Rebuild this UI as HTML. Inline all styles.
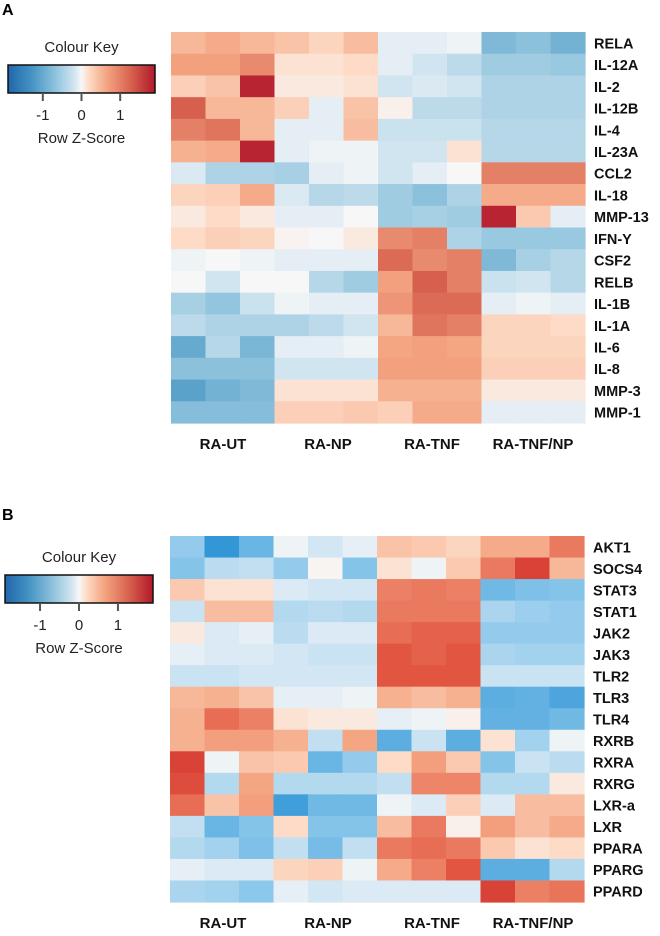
<!DOCTYPE html>
<html><head><meta charset="utf-8"><style>
body{margin:0;background:#fff;width:660px;height:931px;overflow:hidden}
svg text{font-family:"Liberation Sans",sans-serif}
</style></head><body>
<svg id="chart" width="660" height="931" xmlns="http://www.w3.org/2000/svg">
<defs><linearGradient id="kg" x1="0" x2="1" y1="0" y2="0">
<stop offset="0" stop-color="#2166AC"/><stop offset="0.16" stop-color="#4393C3"/><stop offset="0.33" stop-color="#92C5DE"/><stop offset="0.45" stop-color="#D1E5F0"/><stop offset="0.5" stop-color="#F7F7F7"/><stop offset="0.55" stop-color="#FDDBC7"/><stop offset="0.67" stop-color="#F4A582"/><stop offset="0.84" stop-color="#D6604D"/><stop offset="1" stop-color="#B2182B"/>
</linearGradient></defs>
</svg>
<script>
const groups=["RA-UT","RA-NP","RA-TNF","RA-TNF/NP"];
const genesA=["RELA","IL-12A","IL-2","IL-12B","IL-4","IL-23A","CCL2","IL-18","MMP-13","IFN-Y","CSF2","RELB","IL-1B","IL-1A","IL-6","IL-8","MMP-3","MMP-1"];
const valuesA=[
[.5,.6,.5,.4,.25,.45,-.1,-.1,-.05,-.8,-.7,-.9],
[.7,.7,.9,.15,.15,.2,-.1,-.2,-.35,-.55,-.55,-.6],
[.3,.4,1.8,.1,.1,.15,-.2,-.15,-.2,-.45,-.45,-.45],
[1.3,.5,.5,.3,-.1,.4,.05,-.35,-.35,-.45,-.45,-.45],
[1.0,1.1,.5,-.1,-.1,.45,-.25,-.25,-.25,-.4,-.4,-.4],
[.55,.6,1.8,-.1,-.05,-.05,-.2,-.2,.15,-.4,-.4,-.4],
[-.15,-.45,-.45,-.5,-.1,-.05,-.2,-.1,0,1.0,1.0,1.0],
[.25,.3,.6,-.15,-.4,-.35,-.55,-.7,-.45,.6,.6,.6],
[.1,.2,.1,-.1,-.1,0,-.55,-.5,-.55,1.8,.35,-.1],
[.2,.3,.25,.03,0,.1,.9,1.0,-.45,-.6,-.6,-.6],
[-.05,0,-.05,-.1,-.1,-.1,1.2,.9,1.0,-.8,-.5,-.4],
[0,-.2,0,0,-.4,-.55,.7,1.3,1.0,-.25,-.2,-.4],
[-.5,-.65,-.25,-.05,-.1,-.1,.8,1.2,1.2,-.1,-.05,-.1],
[-.35,-.45,-.45,-.45,-.35,-.2,.5,1.1,1.0,.25,.25,.2],
[-1.0,-.4,-.85,-.1,-.1,-.05,.65,.7,.65,.25,.25,.25],
[-.7,-.7,-.7,-.2,-.2,-.2,.7,.7,.7,.3,.3,.3],
[-1.1,-.9,-.8,.15,.15,.15,.55,.55,.55,.1,.1,.1],
[-.75,-.75,-.75,.3,.3,.35,.3,.6,.6,-.1,-.1,-.1]];
const genesB=["AKT1","SOCS4","STAT3","STAT1","JAK2","JAK3","TLR2","TLR3","TLR4","RXRB","RXRA","RXRG","LXR-a","LXR","PPARA","PPARG","PPARD"];
const valuesB=[
[-.6,-1.3,-.9,-.05,-.2,-.1,.4,.35,.25,.6,.6,1.0],
[-.7,-.35,-.3,-.6,.02,-.7,.15,-.05,.35,1.0,1.5,.5],
[.35,.15,.15,-.15,-.2,-.2,.95,1.0,.95,-.85,-.75,-.7],
[-.25,.45,.45,-.4,-.35,-.4,1.0,1.0,1.0,-.45,-.55,-.6],
[.1,-.15,-.1,-.35,-.15,-.15,1.1,1.2,1.2,-.6,-.6,-.6],
[-.1,-.15,-.15,-.2,-.25,-.25,1.3,1.2,1.3,-.45,-.5,-.5],
[-.25,-.25,-.2,-.2,-.2,-.2,1.3,1.3,1.3,-.25,-.25,-.25],
[.5,.55,.4,-.1,-.1,-.05,.55,.45,.55,-1.0,-.95,-1.1],
[.55,1.1,.95,.15,.1,.1,-.1,-.05,.05,-.95,-.95,-.85],
[.55,.7,.7,.55,-.3,.65,-1.0,-.25,-1.0,.15,-.5,-.05],
[1.5,-.05,.4,.35,-.9,-.6,.2,.7,.35,-.7,-.25,-.35],
[1.4,-.4,.65,-.4,-.4,-.4,-.3,.9,.9,-.4,-.4,.1],
[1.1,.4,.7,-1.2,-.85,-.85,-.05,-.15,.3,-.15,.45,.45],
[-.3,-.9,-.7,.2,-.7,-.7,.45,1.0,.05,.7,.45,.6],
[-.4,-.5,-.75,-.3,-.8,-.3,1.0,1.1,1.0,.35,.15,.2],
[-.1,-.15,-.15,.25,.3,-.05,.6,.95,1.3,-1.0,-1.0,-.4],
[-.45,-.5,-.65,-.1,-.2,-.15,-.15,-.15,-.15,1.5,.95,1.05]];
const keyTicks=[-1,0,1];

const stopsA=[[-1.9,[33,102,172]],[-1.3,[67,147,195]],[-.65,[146,197,222]],[-.2,[209,229,240]],[0,[247,247,247]],[.2,[253,219,199]],[.65,[244,165,130]],[1.3,[214,96,77]],[1.9,[178,24,43]]];
const stopsB=[[-1.9,[30,110,190]],[-1.3,[50,150,215]],[-.65,[140,200,235]],[-.2,[210,230,243]],[0,[247,247,247]],[.2,[253,219,199]],[.65,[244,165,130]],[1.3,[225,85,65]],[1.9,[200,30,35]]];
function colorFn(stops){return function(v){
  v=Math.max(-1.9,Math.min(1.9,v));
  for(let i=0;i<stops.length-1;i++){const a=stops[i],b=stops[i+1];
    if(v<=b[0]){const t=(v-a[0])/(b[0]-a[0]);const c=a[1].map((x,k)=>Math.round(x+(b[1][k]-x)*t));return `rgb(${c})`;}}
  return 'rgb(178,24,43)';
};}
const svg=document.getElementById('chart');const NS='http://www.w3.org/2000/svg';
function mk(tag,attrs,txt){const e=document.createElementNS(NS,tag);for(const k in attrs)e.setAttribute(k,attrs[k]);if(txt!==undefined)e.textContent=txt;svg.appendChild(e);return e;}

function panel(letter,ly,key,genes,vals,x0,x1,y0,y1,gy,pfx,color){
  const L=mk('text',{x:2,y:ly,'font-family':'Liberation Serif','font-weight':'bold','font-size':16},letter);
  
  
  const t=mk('text',{x:key.x+(key.w/2),y:key.ty,'text-anchor':'middle','font-size':15,fill:'#222'},'Colour Key');
  
  
  const kb=mk('rect',{x:key.x,y:key.y,width:key.w,height:28,fill:'url(#kg)',stroke:'#111','stroke-width':1.5});
  
  
  const kx=v=>key.x+key.w*(v+1.9)/3.8;
  keyTicks.forEach(v=>{
    const ln=mk('line',{x1:kx(v),x2:kx(v),y1:key.y+28,y2:key.y+36,stroke:'#555','stroke-width':2});
    
    
    const tl=mk('text',{x:kx(v),y:key.y+55,'text-anchor':'middle','font-size':15,fill:'#222'},String(v));
    
    
  });
  const zs=mk('text',{x:key.x+key.w/2,y:key.y+78,'text-anchor':'middle','font-size':15,fill:'#222'},'Row Z-Score');
  
  
  const nc=vals[0].length,cw=(x1-x0)/nc,rh=(y1-y0)/genes.length;
  vals.forEach((row,r)=>{row.forEach((v,c)=>{
    const cell=mk('rect',{x:x0+c*cw,y:y0+r*rh,width:cw+0.6,height:rh+0.6,fill:color(v)});
    
    
  });
    const gl=mk('text',{x:x1+9,y:y0+r*rh+rh/2+5.5,'font-size':14.5,'font-weight':'bold',fill:'#111'},genes[r]);
    
    
  });
  const gx=[223,328,432,533];
  groups.forEach((g,i)=>{
    const e=mk('text',{x:gx[i],y:gy,'text-anchor':'middle','font-size':15,'font-weight':'bold',fill:'#111'},g);
    
    
  });
}
panel('A',15,{x:8,y:65,w:147,ty:52},genesA,valuesA,171,585,32,423,449,'a-',colorFn(stopsA));
panel('B',520,{x:5,y:575,w:148,ty:562},genesB,valuesB,170,584,536,902,928,'b-',colorFn(stopsB));
</script>
</body></html>
